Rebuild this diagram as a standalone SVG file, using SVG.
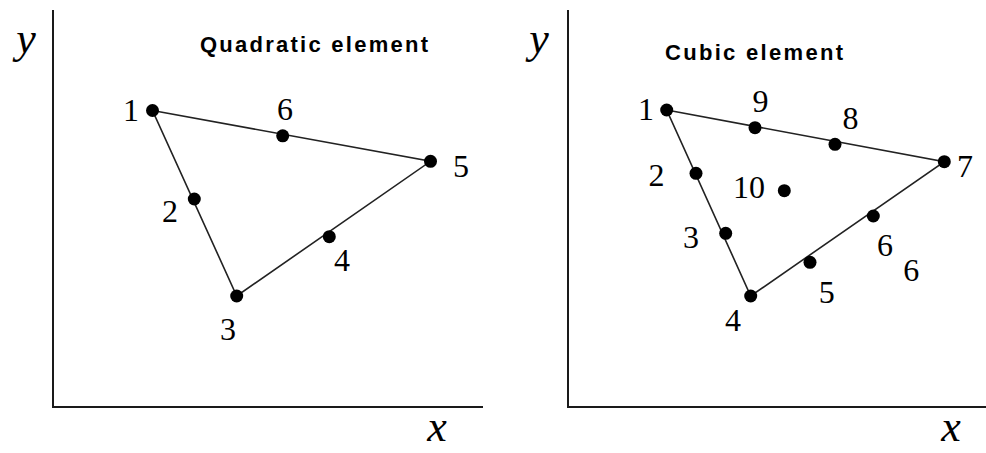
<svg xmlns="http://www.w3.org/2000/svg" width="986" height="453" viewBox="0 0 986 453">
<style>
.axis{stroke:#1a1a1a;stroke-width:2;fill:none}
.edge{stroke:#222;stroke-width:1.6;fill:none}
.dot{fill:#000}
.num{font-family:'Liberation Serif','DejaVu Serif','Times New Roman',serif;font-size:32px;fill:#000;text-anchor:middle}
.var{font-family:'Liberation Serif','DejaVu Serif','Times New Roman',serif;font-style:italic;font-size:44px;fill:#000;text-anchor:middle}
.title{font-family:'Liberation Sans',Arial,sans-serif;font-weight:bold;font-size:22px;fill:#000}
</style>
<rect width="986" height="453" fill="#fff"/>
<g id="left-axes">
<polyline class="axis" points="53,10 53,407 483,407"/>
<text class="var" x="26" y="53">y</text>
<text class="var" x="437" y="441">x</text>
<text class="title" x="200" y="52" textLength="228" lengthAdjust="spacing">Quadratic element</text>
</g>
<g id="left-edges">
<polygon class="edge" points="152.5,110.5 430.5,161.3 236.7,296"/>
</g>
<g id="q1"><circle class="dot" cx="152.5" cy="110.5" r="6.5"/><text class="num" x="131" y="121">1</text></g>
<g id="q2"><circle class="dot" cx="194.3" cy="199" r="6.5"/><text class="num" x="170" y="222">2</text></g>
<g id="q3"><circle class="dot" cx="236.7" cy="296" r="6.5"/><text class="num" x="228" y="340">3</text></g>
<g id="q4"><circle class="dot" cx="329.3" cy="236.7" r="6.5"/><text class="num" x="342" y="271">4</text></g>
<g id="q5"><circle class="dot" cx="430.5" cy="161.3" r="6.5"/><text class="num" x="461" y="177">5</text></g>
<g id="q6"><circle class="dot" cx="282.7" cy="135.8" r="6.5"/><text class="num" x="285" y="120">6</text></g>
<g id="right-axes">
<polyline class="axis" points="568,10 568,407 986,407"/>
<text class="var" x="539" y="53">y</text>
<text class="var" x="951" y="441">x</text>
<text class="title" x="665" y="60" textLength="178" lengthAdjust="spacing">Cubic element</text>
</g>
<g id="right-edges">
<polygon class="edge" points="666.7,110 944.3,161.7 750.7,296"/>
</g>
<g id="c1"><circle class="dot" cx="666.7" cy="110" r="6.5"/><text class="num" x="646" y="120">1</text></g>
<g id="c2"><circle class="dot" cx="696" cy="173.3" r="6.5"/><text class="num" x="656.5" y="186">2</text></g>
<g id="c3"><circle class="dot" cx="725.7" cy="233.3" r="6.5"/><text class="num" x="691" y="248">3</text></g>
<g id="c4"><circle class="dot" cx="750.7" cy="296" r="6.5"/><text class="num" x="733" y="331">4</text></g>
<g id="c5"><circle class="dot" cx="810" cy="262.3" r="6.5"/><text class="num" x="826.7" y="303">5</text></g>
<g id="c6"><circle class="dot" cx="873.3" cy="216" r="6.5"/><text class="num" x="885" y="256">6</text><text class="num" x="911.3" y="281">6</text></g>
<g id="c7"><circle class="dot" cx="944.3" cy="161.7" r="6.5"/><text class="num" x="965" y="177">7</text></g>
<g id="c8"><circle class="dot" cx="835" cy="144.3" r="6.5"/><text class="num" x="850.5" y="129">8</text></g>
<g id="c9"><circle class="dot" cx="755" cy="127.7" r="6.5"/><text class="num" x="760.5" y="112">9</text></g>
<g id="c10"><circle class="dot" cx="784.3" cy="190.7" r="6.5"/><text class="num" x="749" y="198">10</text></g>
</svg>
